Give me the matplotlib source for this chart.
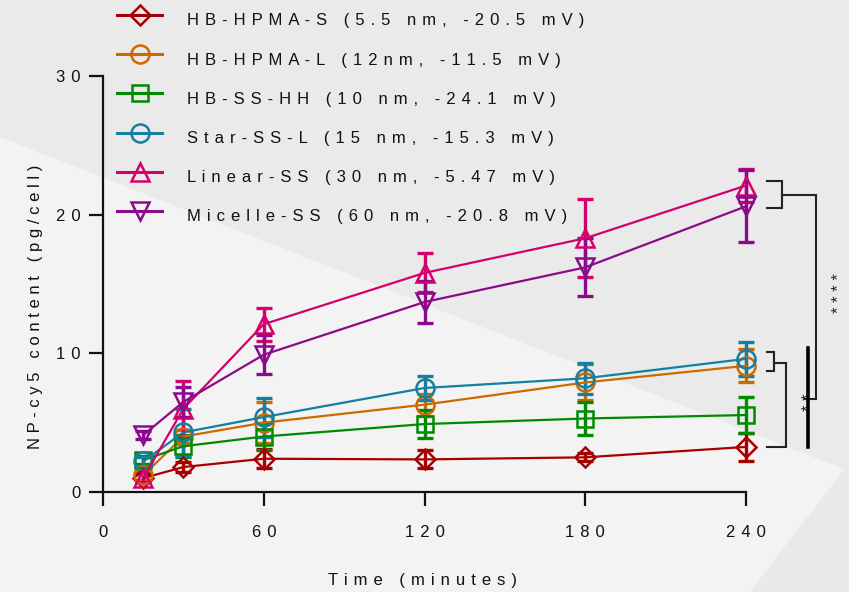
import matplotlib
matplotlib.use("Agg")
import matplotlib.pyplot as plt
from matplotlib.patches import Polygon
from matplotlib.lines import Line2D

plt.rcParams['font.family'] = ['Liberation Sans', 'DejaVu Sans']

def sp(s, gap=' \u200a'):
    return gap.join(s)

time_min = [15, 30, 60, 120, 180, 240]
labels = ["HB-HPMA-S (5.5 nm, -20.5 mV)", "HB-HPMA-L (12nm, -11.5 mV)",
          "HB-SS-HH (10 nm, -24.1 mV)", "Star-SS-L (15 nm, -15.3 mV)",
          "Linear-SS (30 nm, -5.47 mV)", "Micelle-SS (60 nm, -20.8 mV)"]
hb_hpma_s = [1.0, 1.8, 2.4, 2.35, 2.5, 3.25]
hb_hpma_s_err = [0.3, 0.35, 0.7, 0.65, 0.3, 1.0]
hb_hpma_l = [1.2, 4.0, 5.0, 6.3, 7.9, 9.1]
hb_hpma_l_err = [0.3, 0.5, 1.5, 0.8, 1.3, 1.2]
hb_ss_hh = [2.3, 3.3, 4.0, 4.9, 5.3, 5.55]
hb_ss_hh_err = [0.3, 0.8, 1.0, 1.0, 1.2, 1.3]
star_ss_l = [2.2, 4.3, 5.4, 7.5, 8.2, 9.6]
star_ss_l_err = [0.3, 1.7, 1.4, 0.9, 1.1, 1.2]
linear_ss = [1.0, 6.0, 12.1, 15.8, 18.3, 22.1]
linear_ss_err = [0.3, 2.0, 1.2, 1.4, 2.8, 1.2]
micelle_ss = [4.1, 6.5, 9.9, 13.7, 16.2, 20.6]
micelle_ss_err = [0.3, 1.1, 1.4, 1.5, 2.1, 2.6]

x_ticks = [0, 60, 120, 180, 240]
y_ticks = [0, 10, 20, 30]

series = [
    (hb_hpma_s, hb_hpma_s_err, '#A80000', 'D', 10),
    (hb_hpma_l, hb_hpma_l_err, '#CC6A00', 'o', 13),
    (hb_ss_hh, hb_ss_hh_err, '#008A00', 's', 12),
    (star_ss_l, star_ss_l_err, '#147F9E', 'o', 13),
    (linear_ss, linear_ss_err, '#D4006E', '^', 13),
    (micelle_ss, micelle_ss_err, '#8A0A8A', 'v', 13),
]

W, H = 849, 592
fig = plt.figure(figsize=(W / 100, H / 100), dpi=100)
fig.patch.set_facecolor('#eaeaea')
fig.patches.append(Polygon([(0, 0), (0, 1 - 137 / H), (1, 1 - 471 / H), (1, 0)],
                           closed=True, transform=fig.transFigure, facecolor='#f3f3f3',
                           edgecolor='none', zorder=-10))
fig.patches.append(Polygon([(1, 1 - 463 / H), (750 / W, 0), (1, 0)],
                           closed=True, transform=fig.transFigure, facecolor='#e9e9e9',
                           edgecolor='none', zorder=-9))

ax = fig.add_axes([103 / W, 1 - 492 / H, 643 / W, 416 / H])
ax.set_facecolor('none')

for (vals, errs, col, mk, ms), lab in zip(series, labels):
    ax.errorbar(time_min, vals, yerr=errs, fmt='none', ecolor=col, elinewidth=2.4,
                capsize=6, capthick=2.4, clip_on=False, zorder=3)
    ax.plot(time_min, vals, color=col, lw=1.6, marker=mk, ms=ms,
            mfc='none', mec=col, mew=1.8, clip_on=False, zorder=4)

ax.set_xlim(0, 240)
ax.set_ylim(0, 30)
for s in ['top', 'right']:
    ax.spines[s].set_visible(False)
for s in ['left', 'bottom']:
    ax.spines[s].set_linewidth(1.6)
    ax.spines[s].set_color('#111111')
ax.set_xticks(x_ticks)
ax.set_xticklabels([sp(str(v)) for v in x_ticks])
ax.set_yticks(y_ticks)
ax.set_yticklabels([sp(str(v)) for v in y_ticks])
ax.tick_params(axis='both', length=10, width=1.6, color='#111111', labelsize=12,
               labelcolor='#111111')
ax.tick_params(axis='x', pad=14)
ax.tick_params(axis='y', pad=6)

fig.text(423 / W, 1 - 580 / H, sp("Time (minutes)"), fontsize=12,
         ha='center', va='center', color='#111111')
fig.text(36 / W, 1 - 307 / H, sp("NP-cy5 content (pg/cell)", ' '), fontsize=12,
         ha='center', va='center', rotation=90, color='#111111')

# significance brackets (built from last-time-point means)
k = dict(color='#222222', lw=1.5, clip_on=False, solid_joinstyle='miter')
top_hi, top_lo = linear_ss[-1], micelle_ss[-1]
ax.plot([248, 253.5, 253.5, 248], [top_hi + 0.3, top_hi + 0.3, top_lo - 0.1, top_lo - 0.1], **k)
ymid = (top_hi + top_lo) / 2 + 0.1
ax.plot([253.5, 266, 266, 262], [ymid, ymid, 6.7, 6.7], **k)
mid_hi, mid_lo = star_ss_l[-1], hb_hpma_l[-1]
ax.plot([248, 250.5, 250.5, 248], [mid_hi + 0.5, mid_hi + 0.5, mid_lo - 0.4, mid_lo - 0.4], **k)
ym2 = (mid_hi + mid_lo) / 2 - 0.05
ax.plot([250.5, 255, 255, 248], [ym2, ym2, hb_hpma_s[-1], hb_hpma_s[-1]], **k)
ax.plot([263, 263], [10.4, hb_hpma_s[-1]], color='black', lw=2.6, clip_on=False)
fig.text(840 / W, 1 - 293 / H, '* * * *', rotation=90, ha='center', va='center',
         fontsize=12, color='#222222')
fig.text(809 / W, 1 - 402 / H, '* *', rotation=90, ha='center', va='center',
         fontsize=12, color='#222222')

# legend drawn manually to match row geometry
for i, ((vals, errs, col, mk, ms), lab) in enumerate(zip(series, labels)):
    yl = 1 - (15 + 39.2 * i) / H
    fig.add_artist(Line2D([117 / W, 162 / W], [yl, yl], color=col, lw=2.2,
                          transform=fig.transFigure))
    fig.add_artist(Line2D([139.5 / W], [yl], color=col, marker=mk, ms=ms, mfc='none',
                          mec=col, mew=1.8, transform=fig.transFigure))
    fig.text(187 / W, 1 - (21 + 39.2 * i) / H, sp(lab), fontsize=12, ha='left',
             va='center', color='#111111')

fig.savefig('out.png', dpi=100, facecolor=fig.get_facecolor())
